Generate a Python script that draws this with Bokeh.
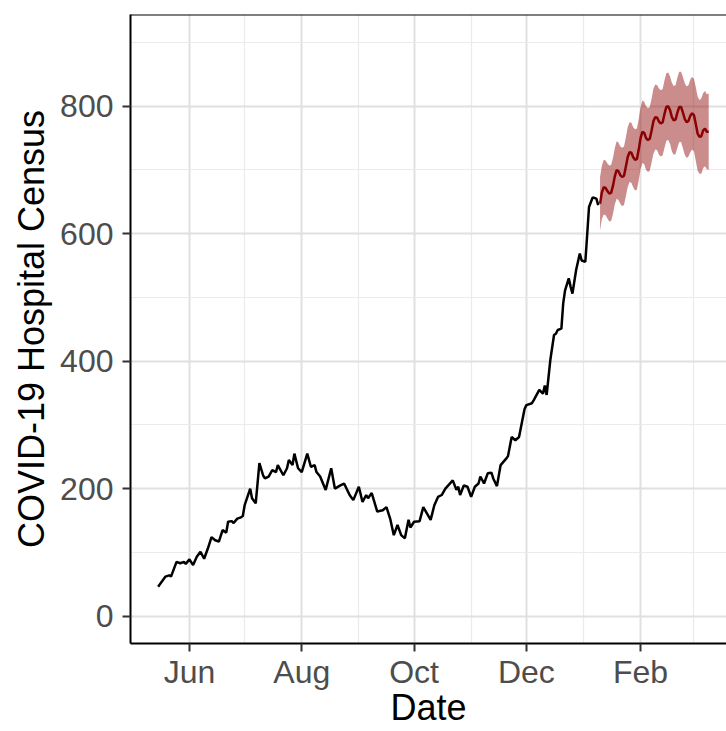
import pandas as pd
from bokeh.plotting import figure
from bokeh.models import FixedTicker, DatetimeTickFormatter, Span, Range1d
from bokeh.embed import file_html
from bokeh.resources import INLINE

obs_dates = [
    "2020-05-15", "2020-05-19", "2020-05-21", "2020-05-22", "2020-05-25", "2020-05-27", "2020-05-29", "2020-05-30",
    "2020-06-01", "2020-06-03", "2020-06-05", "2020-06-07", "2020-06-09", "2020-06-11", "2020-06-13", "2020-06-15",
    "2020-06-17", "2020-06-19", "2020-06-21", "2020-06-22", "2020-06-24", "2020-06-25", "2020-06-27", "2020-06-29",
    "2020-06-30", "2020-07-01", "2020-07-04", "2020-07-05", "2020-07-07", "2020-07-09", "2020-07-11", "2020-07-12",
    "2020-07-14", "2020-07-16", "2020-07-18", "2020-07-19", "2020-07-22", "2020-07-24", "2020-07-25", "2020-07-27",
    "2020-07-28", "2020-07-30", "2020-08-01", "2020-08-04", "2020-08-06", "2020-08-08", "2020-08-09", "2020-08-11",
    "2020-08-14", "2020-08-17", "2020-08-19", "2020-08-22", "2020-08-24", "2020-08-27", "2020-08-29", "2020-09-01",
    "2020-09-03", "2020-09-05", "2020-09-06", "2020-09-08", "2020-09-11", "2020-09-14", "2020-09-16", "2020-09-18",
    "2020-09-20", "2020-09-22", "2020-09-24", "2020-09-26", "2020-09-28", "2020-09-29", "2020-10-01", "2020-10-04",
    "2020-10-06", "2020-10-10", "2020-10-12", "2020-10-14", "2020-10-16", "2020-10-18", "2020-10-22", "2020-10-24",
    "2020-10-25", "2020-10-26", "2020-10-28", "2020-10-30", "2020-11-01", "2020-11-03", "2020-11-05", "2020-11-06",
    "2020-11-08", "2020-11-10", "2020-11-12", "2020-11-13", "2020-11-15", "2020-11-17", "2020-11-20", "2020-11-21",
    "2020-11-23", "2020-11-25", "2020-11-27", "2020-11-30", "2020-12-01", "2020-12-04", "2020-12-05", "2020-12-08",
    "2020-12-10", "2020-12-11", "2020-12-12", "2020-12-14", "2020-12-16", "2020-12-17", "2020-12-18", "2020-12-20",
    "2020-12-21", "2020-12-22", "2020-12-24", "2020-12-25", "2020-12-26", "2020-12-28", "2020-12-30", "2020-12-31",
    "2021-01-02", "2021-01-03", "2021-01-04", "2021-01-06", "2021-01-08", "2021-01-09",
]
obs_values = [
    46, 62, 64, 62, 85, 83, 85, 82,
    89, 80, 93, 101, 90, 106, 124, 119,
    117, 135, 131, 148, 149, 146, 153, 155,
    157, 174, 200, 185, 177, 240, 221, 216,
    219, 229, 226, 237, 221, 232, 245, 237,
    255, 232, 226, 255, 234, 237, 226, 219,
    198, 232, 200, 205, 208, 190, 182, 203,
    179, 190, 185, 193, 164, 166, 171, 153,
    127, 143, 127, 122, 151, 139, 148, 149,
    171, 151, 174, 187, 190, 200, 213, 198,
    203, 190, 205, 203, 187, 203, 208, 219,
    208, 224, 225, 216, 204, 237, 247, 251,
    281, 276, 281, 325, 331, 334, 339, 355,
    349, 362, 347, 402, 441, 443, 449, 451,
    491, 511, 530, 517, 506, 543, 569, 558,
    556, 598, 642, 657, 655, 645,
]

# ---- forecast (daily, starting fc_start) ----
fc_start = "2021-01-10"
fc_mean = [
    647, 665, 673, 672, 667, 663, 664, 675, 690, 700,
    698, 692, 689, 691, 705, 720, 728, 727, 720, 716,
    717, 732, 750, 760, 758, 750, 747, 749, 762, 777,
    783, 782, 776, 773, 775, 788, 799, 800, 794, 783,
    778, 779, 790, 799, 799, 790, 780, 775, 777, 785,
    789, 786, 772, 757, 752, 753, 762, 765, 760, 760,
]
fc_lower = [
    605, 623, 630, 629, 624, 619, 620, 631, 646, 655,
    653, 647, 643, 645, 659, 673, 681, 680, 673, 668,
    669, 684, 701, 711, 709, 700, 697, 699, 712, 726,
    732, 731, 724, 721, 723, 735, 746, 747, 741, 729,
    724, 725, 735, 744, 744, 734, 724, 719, 721, 728,
    732, 729, 714, 699, 694, 694, 703, 706, 701, 700,
]
fc_upper = [
    689, 707, 716, 715, 710, 707, 708, 719, 734, 745,
    743, 737, 735, 737, 751, 767, 775, 774, 767, 764,
    765, 780, 799, 809, 807, 800, 797, 799, 812, 828,
    834, 833, 828, 825, 827, 841, 852, 853, 847, 837,
    832, 833, 845, 854, 854, 846, 836, 831, 833, 842,
    846, 843, 830, 815, 810, 812, 821, 824, 819, 820,
]

x_major = ["2020-06-01", "2020-08-01", "2020-10-01", "2020-12-01", "2021-02-01"]
x_minor = ["2020-07-01", "2020-09-01", "2020-11-01", "2021-01-01", "2021-03-02"]
y_major = [0, 200, 400, 600, 800]
y_minor = [100, 300, 500, 700, 900]

x_start, x_end = "2020-04-30", "2021-03-19 16:00"
y_start, y_end = -43, 944


def ms(d):
    return pd.Timestamp(d).value // 10**6


obs_x = pd.to_datetime(obs_dates)
fc_x = pd.date_range(fc_start, periods=len(fc_mean), freq="D")

p = figure(width=726, height=731, x_axis_type="datetime",
           output_backend="svg", toolbar_location=None,
           x_range=Range1d(ms(x_start), ms(x_end)),
           y_range=Range1d(y_start, y_end),
           min_border_left=130, min_border_right=0,
           min_border_top=14, min_border_bottom=88)
p.outline_line_color = None
p.background_fill_color = "white"
p.border_fill_color = "white"

# grid
for g in (p.xgrid[0], p.ygrid[0]):
    g.grid_line_color = "#E0E0E0"
    g.grid_line_width = 2
    g.minor_grid_line_color = "#EBEBEB"
    g.minor_grid_line_width = 1.2

# data
p.varea(x=fc_x, y1=fc_lower, y2=fc_upper, fill_color="#8B0000", fill_alpha=0.45)
p.line(obs_x, obs_values, line_color="black", line_width=2.5)
p.line(fc_x, fc_mean, line_color="#8B0000", line_width=2.5)

# axes
p.xaxis.ticker = FixedTicker(ticks=[ms(d) for d in x_major], minor_ticks=[ms(d) for d in x_minor])
p.xaxis.formatter = DatetimeTickFormatter(days="%b", months="%b", years="%b")
p.yaxis.ticker = FixedTicker(ticks=y_major, minor_ticks=y_minor)

for ax in (p.xaxis[0], p.yaxis[0]):
    ax.axis_line_color = "black"
    ax.axis_line_width = 2
    ax.major_tick_line_color = "#333333"
    ax.major_tick_line_width = 2
    ax.major_tick_out = 8
    ax.major_tick_in = 0
    ax.minor_tick_line_color = None
    ax.major_label_text_font = "Liberation Sans"
    ax.major_label_text_font_size = "32px"
    ax.major_label_text_color = "#4D4D4D"
    ax.axis_label_text_font = "Liberation Sans"
    ax.axis_label_text_font_size = "36px"
    ax.axis_label_text_font_style = "normal"
    ax.axis_label_text_color = "black"

p.xaxis.major_label_standoff = 2
p.yaxis.major_label_standoff = 9

p.yaxis.axis_label = "COVID-19 Hospital Census"
p.yaxis.axis_label_standoff = 5
p.xaxis.axis_label = "Date"
p.xaxis.axis_label_standoff = -6

# top border
p.add_layout(Span(location=y_end, dimension="width", line_color="black", line_width=2))

open("out.html", "w").write(file_html(p, INLINE))
